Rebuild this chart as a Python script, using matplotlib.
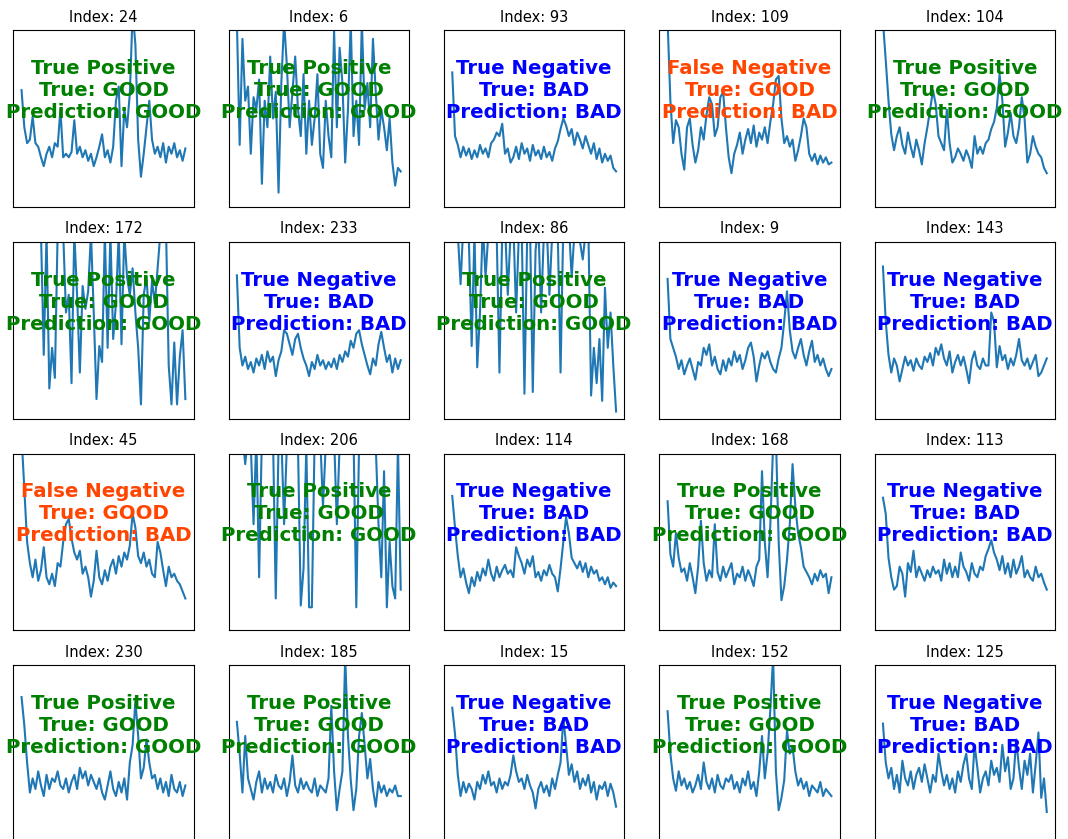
import numpy as np
import matplotlib.pyplot as plt

# sample ids shown in the grid, row by row
indices = [24, 6, 93, 109, 104,
           172, 233, 86, 9, 143,
           45, 206, 114, 168, 113,
           230, 185, 15, 152, 125]

true_labels = ["GOOD", "GOOD", "BAD", "GOOD", "GOOD",
               "GOOD", "BAD", "GOOD", "BAD", "BAD",
               "GOOD", "GOOD", "BAD", "GOOD", "BAD",
               "GOOD", "GOOD", "BAD", "GOOD", "BAD"]

pred_labels = ["GOOD", "GOOD", "BAD", "BAD", "GOOD",
               "GOOD", "BAD", "GOOD", "BAD", "BAD",
               "BAD", "GOOD", "BAD", "GOOD", "BAD",
               "GOOD", "GOOD", "BAD", "GOOD", "BAD"]

# signals (scaled so that the plot window is 0..100)
s24 = [66, 45, 36, 38, 51, 36, 34, 28, 23, 30, 34, 28, 36, 34, 55, 28, 30, 28, 31, 49,
       30, 34, 28, 32, 26, 30, 23, 28, 34, 41, 28, 32, 25, 34, 60, 68, 23, 55, 45, 64,
       110, 92, 38, 17, 30, 45, 60, 38, 30, 34, 28, 36, 25, 34, 30, 36, 28, 32, 26, 33]
s6 = [105, 35, 95, 60, 68, 30, 62, 55, 72, 13, 60, 45, 85, 50, 65, 8, 70, 105, 80, 45,
      65, 85, 55, 40, 75, 30, 60, 35, 50, 75, 30, 22, 60, 40, 28, 100, 45, 90, 70, 25,
      55, 105, 40, 60, 35, 105, 55, 70, 45, 95, 65, 38, 55, 45, 32, 50, 25, 12, 22, 20]
s93 = [76, 40, 35, 28, 34, 29, 33, 27, 32, 28, 35, 30, 33, 28, 36, 38, 42, 40, 47, 30,
       33, 25, 28, 34, 27, 36, 30, 33, 26, 35, 29, 32, 27, 34, 28, 31, 26, 33, 37, 44,
       50, 46, 40, 44, 35, 42, 38, 33, 40, 35, 30, 36, 27, 33, 25, 30, 26, 29, 22, 20]
s109 = [105, 60, 36, 49, 45, 30, 21, 45, 50, 35, 25, 32, 45, 38, 52, 62, 58, 40, 45, 62,
        65, 45, 28, 19, 30, 35, 42, 30, 38, 44, 36, 46, 34, 42, 38, 45, 36, 48, 58, 72,
        74, 50, 36, 40, 34, 38, 26, 32, 40, 50, 45, 30, 26, 30, 24, 29, 25, 28, 24, 25]
s104 = [105, 83, 60, 41, 32, 40, 45, 35, 30, 42, 34, 28, 38, 32, 24, 36, 45, 55, 66, 58,
        40, 36, 32, 55, 36, 25, 28, 33, 30, 26, 32, 28, 22, 40, 30, 34, 30, 36, 38, 44,
        48, 56, 75, 60, 34, 42, 53, 40, 36, 45, 62, 50, 25, 30, 40, 34, 30, 28, 22, 19]
s172 = [130, 150, 140, 120, 135, 125, 110, 105, 36, 105, 17, 40, 23, 105, 110, 105, 60, 70, 20, 105,
        70, 26, 75, 62, 72, 105, 60, 11, 41, 32, 105, 40, 105, 45, 65, 105, 42, 105, 80, 70,
        85, 60, 40, 8, 70, 80, 55, 78, 65, 85, 105, 105, 110, 30, 8, 43, 8, 35, 50, 11]
s233 = [81, 40, 30, 35, 28, 32, 26, 34, 30, 36, 28, 38, 32, 35, 24, 33, 38, 50, 48, 42,
        36, 45, 48, 40, 34, 30, 24, 32, 28, 36, 30, 33, 28, 32, 29, 34, 28, 36, 32, 38,
        35, 44, 40, 48, 50, 42, 36, 30, 25, 34, 30, 42, 49, 40, 32, 36, 26, 34, 28, 33]
s86 = [110, 120, 105, 76, 110, 105, 100, 41, 105, 29, 60, 110, 80, 105, 110, 110, 105, 26, 105, 110,
       70, 105, 110, 60, 105, 110, 14, 105, 110, 15, 95, 110, 60, 105, 110, 70, 105, 110, 105, 26,
       110, 105, 110, 80, 105, 110, 100, 90, 105, 110, 13, 40, 20, 45, 10, 74, 40, 60, 30, 4]
s9 = [79, 45, 40, 35, 28, 33, 25, 30, 34, 28, 22, 32, 30, 40, 36, 42, 30, 35, 28, 25,
      33, 27, 34, 30, 38, 32, 36, 28, 33, 40, 43, 35, 21, 30, 37, 34, 38, 32, 28, 26,
      34, 40, 55, 72, 50, 38, 34, 40, 45, 36, 30, 38, 44, 32, 36, 30, 34, 28, 24, 28]
s143 = [86, 55, 36, 26, 34, 30, 21, 28, 35, 30, 33, 27, 34, 30, 28, 35, 32, 37, 30, 40,
        36, 42, 34, 30, 38, 26, 32, 36, 30, 35, 28, 20, 33, 38, 30, 28, 34, 30, 30, 60,
        55, 29, 41, 33, 36, 28, 34, 30, 36, 45, 33, 30, 34, 28, 32, 36, 24, 26, 30, 34]
s45 = [110, 80, 50, 38, 30, 40, 28, 34, 47, 30, 26, 32, 25, 38, 36, 50, 60, 63, 52, 44,
       40, 45, 32, 36, 30, 19, 28, 45, 30, 26, 34, 28, 36, 40, 32, 42, 36, 44, 40, 48,
       66, 58, 42, 38, 44, 36, 40, 32, 30, 50, 44, 34, 25, 36, 30, 32, 28, 26, 22, 18]
s206 = [110, 105, 110, 94, 110, 105, 60, 110, 30, 110, 105, 110, 105, 110, 18, 105, 110, 60, 105, 110,
        105, 110, 105, 14, 35, 105, 13, 13, 110, 105, 110, 70, 105, 110, 105, 110, 60, 105, 110, 105,
        110, 105, 110, 13, 105, 110, 105, 110, 105, 110, 105, 60, 30, 90, 13, 50, 25, 18, 105, 23]
s114 = [76, 58, 42, 30, 35, 27, 21, 30, 25, 33, 28, 35, 31, 40, 32, 28, 36, 30, 34, 37,
        32, 34, 30, 47, 42, 38, 32, 40, 36, 42, 30, 33, 28, 34, 31, 37, 32, 30, 22, 35,
        50, 64, 55, 41, 38, 35, 39, 33, 38, 30, 36, 32, 34, 28, 30, 26, 30, 24, 27, 25]
s168 = [73, 43, 36, 55, 41, 33, 35, 28, 38, 30, 21, 36, 62, 38, 28, 34, 30, 60, 33, 28,
        36, 30, 34, 38, 26, 32, 30, 36, 28, 34, 30, 25, 36, 40, 90, 50, 30, 60, 105, 110,
        50, 17, 25, 40, 60, 94, 70, 55, 47, 36, 33, 30, 26, 32, 28, 34, 30, 32, 21, 30]
s113 = [75, 66, 41, 30, 23, 25, 36, 32, 19, 38, 33, 45, 30, 36, 32, 28, 34, 30, 36, 32,
        34, 28, 40, 32, 38, 30, 36, 30, 44, 36, 33, 28, 38, 32, 30, 36, 34, 42, 46, 51,
        44, 40, 34, 42, 32, 38, 30, 40, 32, 36, 42, 30, 34, 30, 28, 36, 30, 32, 27, 23]
s230 = [82, 66, 45, 28, 36, 30, 40, 32, 26, 38, 30, 36, 34, 40, 32, 30, 36, 28, 34, 38,
        30, 42, 36, 40, 32, 38, 34, 30, 36, 28, 24, 32, 40, 30, 26, 34, 28, 36, 24, 45,
        55, 80, 60, 36, 42, 58, 45, 36, 38, 30, 36, 28, 34, 26, 38, 30, 28, 34, 26, 32]
s185 = [68, 50, 28, 60, 36, 30, 24, 34, 40, 28, 36, 30, 34, 28, 38, 32, 30, 36, 26, 34,
        49, 32, 28, 36, 30, 34, 30, 28, 36, 26, 32, 30, 28, 36, 77, 40, 18, 30, 40, 105,
        60, 35, 18, 30, 60, 73, 55, 36, 47, 30, 20, 34, 28, 32, 26, 30, 28, 32, 26, 26]
s15 = [76, 61, 38, 26, 34, 28, 33, 30, 24, 34, 30, 38, 33, 40, 32, 34, 28, 36, 30, 34,
       32, 38, 49, 40, 34, 36, 30, 38, 32, 28, 19, 30, 34, 28, 32, 26, 36, 30, 38, 45,
       70, 55, 38, 44, 34, 40, 30, 36, 32, 38, 28, 34, 24, 32, 30, 34, 26, 33, 28, 20]
s152 = [74, 50, 36, 29, 40, 32, 36, 30, 34, 28, 32, 38, 30, 45, 34, 30, 36, 28, 38, 32,
        30, 36, 34, 38, 30, 34, 28, 36, 32, 40, 30, 34, 26, 40, 60, 36, 50, 75, 105, 40,
        18, 25, 35, 63, 50, 54, 40, 32, 36, 30, 34, 26, 32, 30, 28, 34, 26, 30, 28, 26]
s125 = [67, 45, 36, 42, 30, 38, 28, 46, 36, 32, 40, 30, 38, 42, 34, 44, 36, 28, 38, 34,
        50, 40, 32, 38, 30, 36, 28, 40, 34, 44, 50, 36, 30, 55, 42, 28, 36, 40, 32, 46,
        38, 42, 34, 55, 40, 48, 30, 36, 58, 42, 30, 46, 38, 50, 28, 44, 62, 25, 36, 17]

signals = [s24, s6, s93, s109, s104,
           s172, s233, s86, s9, s143,
           s45, s206, s114, s168, s113,
           s230, s185, s15, s152, s125]


def outcome(t, p):
    if t == "GOOD" and p == "GOOD":
        return "True Positive", "green"
    if t == "BAD" and p == "BAD":
        return "True Negative", "blue"
    if t == "GOOD" and p == "BAD":
        return "False Negative", "orangered"
    return "False Positive", "red"


fig, axes = plt.subplots(4, 5, figsize=(10.68, 8.39), dpi=100)
fig.subplots_adjust(left=0.0125, right=0.9878, top=0.9642, bottom=-0.0036,
                    wspace=0.195, hspace=0.198)

for ax, idx, sig, t, p in zip(axes.ravel(), indices, signals, true_labels, pred_labels):
    ax.plot(np.arange(len(sig)), sig, color="C0", lw=1.5)
    ax.set_ylim(0, 100)
    ax.set_xticks([])
    ax.set_yticks([])
    ax.set_title(f"Index: {idx}", fontsize=10.5)
    name, col = outcome(t, p)
    ax.text(0.5, 0.658, f"{name}\nTrue: {t}\nPrediction: {p}",
            transform=ax.transAxes, ha="center", va="center",
            multialignment="center", fontsize=14.2, fontweight="bold", color=col)

fig.savefig("out.png", dpi=100)
